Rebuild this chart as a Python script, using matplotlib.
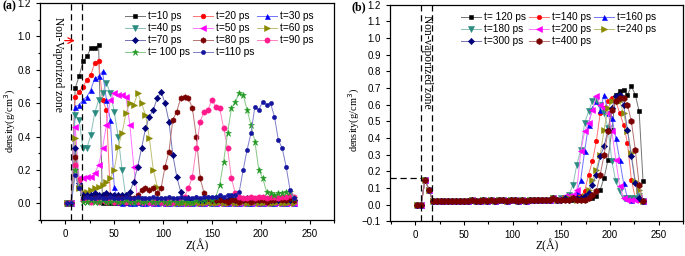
import matplotlib
matplotlib.use("Agg")
import matplotlib.pyplot as plt
import matplotlib.colors as mcolors
from matplotlib.ticker import MultipleLocator

plt.rcParams['font.family'] = ['Liberation Sans', 'DejaVu Sans']

# Z positions (Angstrom), shared by both panels
z = [2, 6, 10, 14, 18, 22, 26, 30, 34, 38,
     42, 46, 50, 54, 58, 62, 66, 70, 74, 78,
     82, 86, 90, 94, 98, 102, 106, 110, 114, 118,
     122, 126, 130, 134, 138, 142, 146, 150, 154, 158,
     162, 166, 170, 174, 178, 182, 186, 190, 194, 198,
     202, 206, 210, 214, 218, 222, 226, 230, 234]

# ---- panel (a): density profiles, t = 10 ... 110 ps
t10 = [0.00, 0.00, 0.69, 0.76, 0.85, 0.88, 0.93, 0.93, 0.95, 0.00,
       0.00, 0.00, 0.00, 0.00, 0.00, 0.00, 0.00, 0.00, 0.00, 0.00,
       0.00, 0.00, 0.00, 0.00, 0.00, 0.00, 0.00, 0.00, 0.00, 0.00,
       0.00, 0.00, 0.00, 0.00, 0.00, 0.00, 0.00, 0.00, 0.00, 0.00,
       0.00, 0.00, 0.00, 0.00, 0.00, 0.00, 0.00, 0.00, 0.00, 0.00,
       0.00, 0.00, 0.00, 0.00, 0.00, 0.00, 0.00, 0.00, 0.00]
t20 = [0.00, 0.00, 0.64, 0.67, 0.70, 0.74, 0.77, 0.84, 0.85, 0.62,
       0.56, 0.05, 0.01, 0.00, 0.01, 0.00, 0.01, 0.01, 0.00, 0.01,
       0.00, 0.01, 0.01, 0.00, 0.01, 0.00, 0.00, 0.01, 0.00, 0.01,
       0.00, 0.01, 0.00, 0.01, 0.00, 0.01, 0.00, 0.00, 0.01, 0.00,
       0.01, 0.00, 0.01, 0.00, 0.01, 0.00, 0.01, 0.00, 0.01, 0.00,
       0.01, 0.00, 0.01, 0.00, 0.01, 0.00, 0.01, 0.00, 0.01]
t30 = [0.00, 0.00, 0.58, 0.59, 0.62, 0.64, 0.68, 0.75, 0.76, 0.79,
       0.62, 0.50, 0.10, 0.01, 0.00, 0.01, 0.00, 0.00, 0.01, 0.00,
       0.00, 0.01, 0.00, 0.00, 0.01, 0.00, 0.00, 0.01, 0.00, 0.00,
       0.01, 0.00, 0.00, 0.01, 0.00, 0.00, 0.01, 0.00, 0.00, 0.01,
       0.00, 0.00, 0.01, 0.00, 0.00, 0.01, 0.00, 0.00, 0.01, 0.00,
       0.00, 0.01, 0.00, 0.00, 0.01, 0.00, 0.00, 0.01, 0.00]
t40 = [0.00, 0.00, 0.53, 0.50, 0.33, 0.33, 0.41, 0.54, 0.62, 0.66,
       0.72, 0.66, 0.55, 0.40, 0.20, 0.03, 0.01, 0.00, 0.01, 0.00,
       0.01, 0.00, 0.00, 0.01, 0.00, 0.01, 0.00, 0.00, 0.01, 0.00,
       0.00, 0.01, 0.00, 0.00, 0.01, 0.00, 0.01, 0.00, 0.00, 0.01,
       0.00, 0.01, 0.00, 0.00, 0.01, 0.00, 0.00, 0.01, 0.00, 0.01,
       0.00, 0.00, 0.01, 0.00, 0.01, 0.00, 0.00, 0.01, 0.00]
t50 = [0.00, 0.00, 0.46, 0.15, 0.15, 0.16, 0.16, 0.18, 0.23, 0.33,
       0.47, 0.62, 0.66, 0.65, 0.65, 0.64, 0.47, 0.22, 0.02, 0.00,
       0.01, 0.00, 0.00, 0.01, 0.00, 0.00, 0.00, 0.01, 0.00, 0.00,
       0.00, 0.00, 0.01, 0.00, 0.00, 0.00, 0.01, 0.00, 0.00, 0.00,
       0.00, 0.01, 0.00, 0.00, 0.00, 0.00, 0.01, 0.00, 0.00, 0.00,
       0.00, 0.00, 0.01, 0.00, 0.00, 0.00, 0.00, 0.00, 0.00]
t60 = [0.00, 0.00, 0.39, 0.09, 0.07, 0.07, 0.08, 0.09, 0.10, 0.11,
       0.13, 0.15, 0.20, 0.34, 0.42, 0.54, 0.60, 0.59, 0.66, 0.60,
       0.53, 0.39, 0.20, 0.10, 0.02, 0.01, 0.00, 0.01, 0.00, 0.00,
       0.01, 0.00, 0.00, 0.01, 0.00, 0.00, 0.01, 0.00, 0.00, 0.01,
       0.00, 0.00, 0.01, 0.00, 0.00, 0.01, 0.00, 0.00, 0.01, 0.00,
       0.00, 0.01, 0.00, 0.00, 0.01, 0.00, 0.00, 0.01, 0.00]
t70 = [0.00, 0.00, 0.33, 0.12, 0.05, 0.05, 0.05, 0.06, 0.05, 0.05,
       0.06, 0.05, 0.05, 0.05, 0.05, 0.05, 0.07, 0.13, 0.22, 0.33,
       0.45, 0.52, 0.56, 0.63, 0.67, 0.60, 0.49, 0.29, 0.16, 0.07,
       0.03, 0.03, 0.02, 0.03, 0.02, 0.02, 0.03, 0.02, 0.02, 0.03,
       0.02, 0.02, 0.03, 0.02, 0.02, 0.02, 0.03, 0.02, 0.02, 0.02,
       0.03, 0.02, 0.02, 0.02, 0.02, 0.03, 0.02, 0.02, 0.02]
t80 = [0.00, 0.00, 0.28, 0.10, 0.03, 0.03, 0.02, 0.03, 0.03, 0.02,
       0.03, 0.03, 0.02, 0.03, 0.03, 0.02, 0.03, 0.03, 0.05, 0.08,
       0.09, 0.08, 0.09, 0.06, 0.09, 0.22, 0.31, 0.50, 0.55, 0.63,
       0.64, 0.63, 0.57, 0.40, 0.15, 0.06, 0.03, 0.02, 0.02, 0.02,
       0.02, 0.01, 0.02, 0.02, 0.01, 0.02, 0.02, 0.01, 0.02, 0.02,
       0.02, 0.01, 0.02, 0.02, 0.03, 0.02, 0.02, 0.03, 0.02]
t90 = [0.00, 0.00, 0.23, 0.14, 0.02, 0.02, 0.01, 0.02, 0.01, 0.02,
       0.01, 0.02, 0.01, 0.01, 0.02, 0.01, 0.01, 0.02, 0.01, 0.01,
       0.02, 0.01, 0.01, 0.02, 0.01, 0.01, 0.02, 0.01, 0.02, 0.02,
       0.04, 0.09, 0.16, 0.33, 0.49, 0.55, 0.56, 0.62, 0.58, 0.57,
       0.45, 0.33, 0.15, 0.06, 0.04, 0.03, 0.03, 0.04, 0.03, 0.04,
       0.04, 0.03, 0.04, 0.04, 0.03, 0.04, 0.04, 0.05, 0.04]
t100 = [0.00, 0.00, 0.20, 0.10, 0.01, 0.01, 0.02, 0.01, 0.01, 0.02,
        0.01, 0.01, 0.02, 0.01, 0.01, 0.02, 0.01, 0.01, 0.02, 0.01,
        0.01, 0.02, 0.01, 0.01, 0.02, 0.01, 0.01, 0.02, 0.01, 0.01,
        0.02, 0.01, 0.01, 0.02, 0.02, 0.02, 0.03, 0.02, 0.04, 0.11,
        0.25, 0.42, 0.57, 0.61, 0.66, 0.65, 0.56, 0.47, 0.37, 0.20,
        0.15, 0.07, 0.06, 0.05, 0.06, 0.06, 0.07, 0.07, 0.03]
t110 = [0.00, 0.00, 0.17, 0.09, 0.03, 0.04, 0.03, 0.03, 0.04, 0.03,
        0.03, 0.04, 0.03, 0.03, 0.03, 0.04, 0.03, 0.03, 0.04, 0.03,
        0.03, 0.03, 0.04, 0.03, 0.03, 0.03, 0.04, 0.03, 0.03, 0.04,
        0.03, 0.03, 0.03, 0.04, 0.03, 0.04, 0.04, 0.04, 0.04, 0.05,
        0.04, 0.05, 0.05, 0.05, 0.07, 0.20, 0.32, 0.42, 0.58, 0.56,
        0.61, 0.59, 0.60, 0.52, 0.38, 0.33, 0.22, 0.08, 0.03]

labels_a = ["t=10 ps", "t=20 ps", "t=30 ps", "t=40 ps", "t=50 ps", "t=60 ps",
            "t=70 ps", "t=80 ps", "t=90 ps", "t= 100 ps", "t=110 ps"]
series_a = [t10, t20, t30, t40, t50, t60, t70, t80, t90, t100, t110]

# ---- panel (b): t = 120 ... 400 ps
# Z = 2 ... 146 (common near-zero part of all curves)
base_b = [0.00, 0.00, 0.15, 0.09, 0.02, 0.02, 0.02, 0.02, 0.02, 0.02,
          0.02, 0.02, 0.02, 0.02, 0.03, 0.02, 0.02, 0.03, 0.02, 0.03,
          0.02, 0.03, 0.03, 0.02, 0.03, 0.03, 0.02, 0.03, 0.02, 0.03,
          0.03, 0.03, 0.03, 0.03, 0.03, 0.04, 0.03]
# Z = 150 ... 234
t120 = [0.03, 0.03, 0.04, 0.03, 0.04, 0.04, 0.03, 0.04, 0.04, 0.05, 0.09,
        0.16, 0.27, 0.45, 0.66, 0.68, 0.69, 0.66, 0.71, 0.66, 0.56, 0.14]
t140 = [0.03, 0.04, 0.04, 0.04, 0.05, 0.05, 0.08, 0.18, 0.26, 0.38, 0.55,
        0.58, 0.62, 0.64, 0.62, 0.55, 0.48, 0.37, 0.15, 0.04, 0.03, 0.02]
t160 = [0.04, 0.04, 0.05, 0.05, 0.08, 0.15, 0.32, 0.48, 0.58, 0.62, 0.57,
        0.66, 0.55, 0.52, 0.40, 0.27, 0.13, 0.04, 0.03, 0.04, 0.04, 0.02]
t180 = [0.04, 0.04, 0.06, 0.12, 0.24, 0.33, 0.49, 0.56, 0.62, 0.63, 0.60,
        0.55, 0.46, 0.26, 0.14, 0.08, 0.04, 0.04, 0.04, 0.04, 0.05, 0.02]
t200 = [0.04, 0.05, 0.05, 0.06, 0.09, 0.32, 0.44, 0.49, 0.57, 0.65, 0.60,
        0.58, 0.55, 0.44, 0.27, 0.11, 0.04, 0.03, 0.03, 0.03, 0.04, 0.02]
t240 = [0.03, 0.04, 0.04, 0.04, 0.03, 0.04, 0.05, 0.09, 0.15, 0.21, 0.30,
        0.45, 0.58, 0.62, 0.64, 0.62, 0.55, 0.44, 0.31, 0.14, 0.09, 0.02]
t300 = [0.03, 0.04, 0.03, 0.04, 0.04, 0.04, 0.05, 0.07, 0.12, 0.18, 0.29,
        0.35, 0.45, 0.58, 0.65, 0.66, 0.60, 0.45, 0.29, 0.13, 0.04, 0.02]
t400 = [0.03, 0.03, 0.03, 0.04, 0.03, 0.03, 0.03, 0.04, 0.06, 0.08, 0.18,
        0.30, 0.44, 0.57, 0.62, 0.64, 0.64, 0.60, 0.50, 0.33, 0.12, 0.02]

labels_b = ["t= 120 ps", "t=140 ps", "t=160 ps", "t=180 ps",
            "t=200 ps", "t=240 ps", "t=300 ps", "t=400 ps"]
series_b = [base_b + t for t in (t120, t140, t160, t180, t200, t240, t300, t400)]

# non-vaporized zone boundaries and marks
zone = [6, 17.5]
arrow_level = 0.975
level_b = 0.157

# colour / marker / size for each curve
styles_a = [("#000000", "s", 3.2), ("#ff0000", "o", 3.4), ("#0000ff", "^", 3.6),
            ("#2a8c80", "v", 3.8), ("#ff00ff", "<", 3.8), ("#8a8a00", ">", 3.8),
            ("#00007a", "D", 3.2), ("#7a0000", "h", 4.0), ("#ff1a8c", "o", 3.8),
            ("#229922", "*", 4.6), ("#1515a0", "o", 3.0)]
styles_b = [("#000000", "s", 2.8), ("#ff0000", "o", 3.2), ("#0000ff", "^", 3.6),
            ("#2a8c80", "v", 3.8), ("#ff00ff", "<", 3.8), ("#8a8a00", ">", 3.8),
            ("#00007a", "D", 3.2), ("#7a0000", "h", 4.4)]


def tint(c, f=0.45):
    r, g, b = mcolors.to_rgb(c)
    return (r + (1 - r) * f, g + (1 - g) * f, b + (1 - b) * f)


def draw(ax, series, labels, styles):
    for vals, lab, (c, m, ms) in zip(series, labels, styles):
        ax.plot(z, vals, color=tint(c), lw=0.7, marker=m, ms=ms,
                mfc=c, mec=c, mew=0.4, label=lab)


def style_axes(ax, ymajor, yminor):
    ax.set_xlim(-26, 275)
    ax.set_ylim(-0.1, 1.2)
    ax.xaxis.set_major_locator(MultipleLocator(50))
    ax.xaxis.set_minor_locator(MultipleLocator(25))
    ax.yaxis.set_major_locator(MultipleLocator(ymajor))
    ax.yaxis.set_minor_locator(MultipleLocator(yminor))
    ax.tick_params(which="both", direction="out", labelsize=7, width=0.8)
    ax.tick_params(which="major", length=3)
    ax.tick_params(which="minor", length=1.8)
    for s in ax.spines.values():
        s.set_linewidth(0.9)
    ax.set_xlabel("Z(Å)", family="Liberation Serif", fontsize=8.5)
    ax.set_ylabel("density(g/cm$^3$)", family="Liberation Serif", fontsize=7.5)
    for a in zone:
        ax.axvline(a, color="black", lw=0.9, ls=(0, (5, 3)))


def add_legend(ax, order, x, y):
    h, l = ax.get_legend_handles_labels()
    ax.legend([h[i] for i in order], [l[i] for i in order], ncol=3,
              loc="upper left", bbox_to_anchor=(x, y), frameon=False,
              fontsize=7.3, handlelength=2.0, handletextpad=0.3,
              columnspacing=0.25, labelspacing=0.2, borderpad=0,
              borderaxespad=0)


fig = plt.figure(figsize=(6.85, 2.56), dpi=100)
ax1 = fig.add_axes([0.0584, 0.1406, 0.4292, 0.8474])
ax2 = fig.add_axes([0.5693, 0.1355, 0.4277, 0.8461])

draw(ax1, series_a, labels_a, styles_a)
style_axes(ax1, 0.2, 0.1)
ax1.xaxis.set_label_coords(0.534, -0.088)
ax1.yaxis.set_label_coords(-0.074, 0.456)
add_legend(ax1, [0, 3, 6, 9, 1, 4, 7, 10, 2, 5, 8], 0.288, 0.962)
ax1.annotate("", xy=(zone[1] - 5, arrow_level), xytext=(-3.5, arrow_level),
             arrowprops=dict(arrowstyle="->", color="red", lw=0.9))
ax1.text(-8, 0.83, "Non-Vaporized zone", rotation=-90, ha="center",
         va="center", family="Liberation Serif", fontsize=8.3)

draw(ax2, series_b, labels_b, styles_b)
style_axes(ax2, 0.1, 0.05)
ax2.tick_params(axis="y", which="minor", length=0)
ax2.xaxis.set_label_coords(0.535, -0.082)
ax2.yaxis.set_label_coords(-0.094, 0.468)
add_legend(ax2, [0, 3, 6, 1, 4, 7, 2, 5], 0.243, 0.965)
ax2.plot([-26, zone[0]], [level_b, level_b], color="black", lw=0.9,
         ls=(0, (5, 3)))
ax2.text(11.8, 0.86, "Non-vaporized zone", rotation=-90, ha="center",
         va="center", family="Liberation Serif", fontsize=8.3)

fig.text(0.003, 0.975, "(a)", family="Liberation Serif", weight="bold",
         fontsize=8.5, va="center")
fig.text(0.513, 0.972, "(b)", family="Liberation Serif", weight="bold",
         fontsize=8.5, va="center")

fig.savefig("out.png", dpi=100)
